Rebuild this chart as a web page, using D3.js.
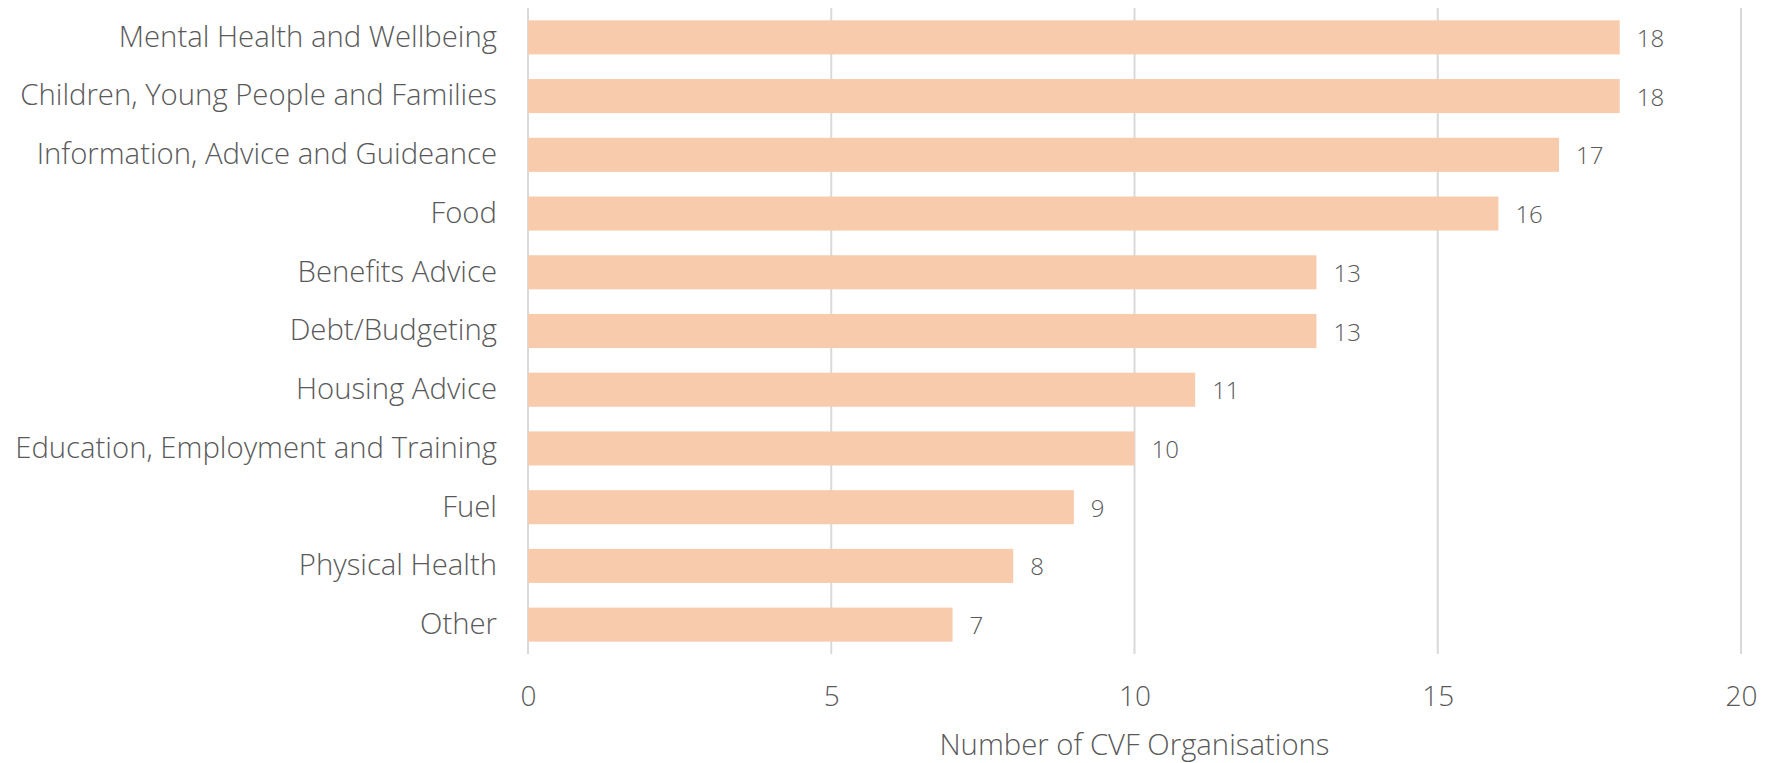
<!DOCTYPE html>
<html>
<head>
<meta charset="utf-8">
<script src="https://cdn.jsdelivr.net/npm/d3@7"></script>
<style>
  body { margin: 0; background: #fff; }
  svg text { font-family: "Open Sans", sans-serif; font-weight: 300; fill: #595959; }
</style>
</head>
<body>
<svg id="chart" width="1767" height="763"></svg>
<script>
const categories = [
  "Mental Health and Wellbeing",
  "Children, Young People and Families",
  "Information, Advice and Guideance",
  "Food",
  "Benefits Advice",
  "Debt/Budgeting",
  "Housing Advice",
  "Education, Employment and Training",
  "Fuel",
  "Physical Health",
  "Other"
];
const counts = [18, 18, 17, 16, 13, 13, 11, 10, 9, 8, 7];
const xTicks = [0, 5, 10, 15, 20];
const xTitle = "Number of CVF Organisations";

const svg = d3.select("#chart");
const plotLeft = 528, plotRight = 1741, plotTop = 8, plotBottom = 654;

const x = d3.scaleLinear().domain([0, 20]).range([plotLeft, plotRight]);
const y = d3.scaleBand()
  .domain(categories)
  .range([plotTop, plotBottom])
  .paddingInner(0.42)
  .paddingOuter(0.21);

// gridlines
svg.append("g")
  .selectAll("line")
  .data(xTicks)
  .join("line")
  .attr("x1", d => x(d))
  .attr("x2", d => x(d))
  .attr("y1", plotTop)
  .attr("y2", plotBottom)
  .attr("stroke", "#d9d9d9")
  .attr("stroke-width", 2);

// bars
svg.append("g")
  .selectAll("rect")
  .data(counts)
  .join("rect")
  .attr("x", x(0))
  .attr("y", (d, i) => y(categories[i]))
  .attr("width", d => x(d) - x(0))
  .attr("height", y.bandwidth())
  .attr("fill", "#f8cbad");

// value labels
svg.append("g")
  .selectAll("text")
  .data(counts)
  .join("text")
  .attr("x", d => x(d) + 17)
  .attr("y", (d, i) => y(categories[i]) + y.bandwidth() / 2)
  .attr("dominant-baseline", "central")
  .attr("font-size", "24px")
  .text(d => d);

// category labels
const yAxis = svg.append("g")
  .attr("transform", `translate(${plotLeft},0)`)
  .call(d3.axisLeft(y).tickSize(0).tickPadding(31));
yAxis.select(".domain").remove();
yAxis.selectAll("text")
  .attr("font-size", "29.3px")
  .attr("font-family", null)
  .attr("fill", null);

// x tick labels
const xAxis = svg.append("g")
  .attr("transform", `translate(0,${plotBottom})`)
  .call(d3.axisBottom(x).tickValues(xTicks).tickSize(0).tickPadding(32));
xAxis.select(".domain").remove();
xAxis.selectAll("text")
  .attr("font-size", "28px")
  .attr("font-family", null)
  .attr("fill", null);

// axis title
svg.append("text")
  .attr("x", (plotLeft + plotRight) / 2)
  .attr("y", 744)
  .attr("text-anchor", "middle")
  .attr("dominant-baseline", "central")
  .attr("font-size", "29.3px")
  .text(xTitle);
</script>
</body>
</html>
